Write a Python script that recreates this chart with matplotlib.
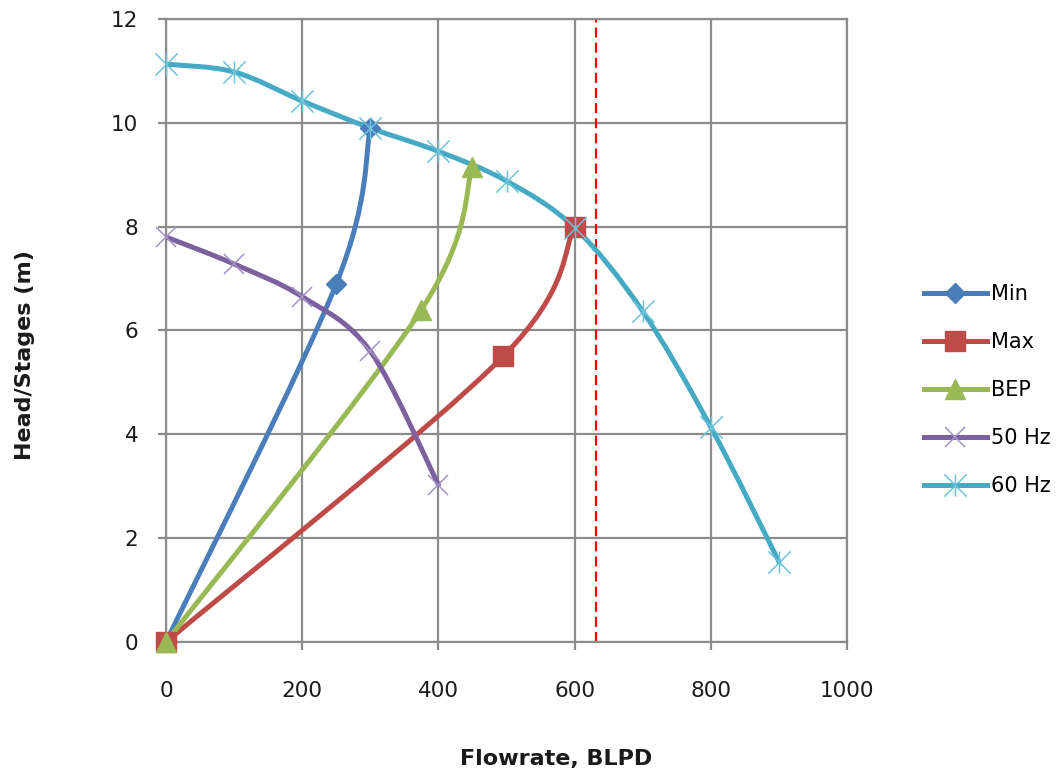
import matplotlib
matplotlib.use("Agg")
import matplotlib.pyplot as plt
from matplotlib.path import Path
from matplotlib.patches import PathPatch
from matplotlib.lines import Line2D
import numpy as np

plt.rcParams['font.family'] = ['DejaVu Sans']

# Data
min_x = [0, 250, 300]
min_y = [0, 6.9, 9.9]
max_x = [0, 495, 600]
max_y = [0, 5.5, 8.0]
bep_x = [0, 375, 450]
bep_y = [0, 6.4, 9.15]
hz50_x = [0, 100, 200, 300, 400]
hz50_y = [7.8, 7.28, 6.65, 5.6, 3.03]
hz60_x = [0, 100, 200, 300, 400, 500, 600, 700, 800, 900]
hz60_y = [11.13, 10.98, 10.42, 9.9, 9.45, 8.88, 7.98, 6.37, 4.14, 1.55]
limit_x = 632
x_ticks = [0, 200, 400, 600, 800, 1000]
y_ticks = [0, 2, 4, 6, 8, 10, 12]

series = [
    ("Min", min_x, min_y, '#4A7EBB', 'D'),
    ("Max", max_x, max_y, '#BE4B48', 's'),
    ("BEP", bep_x, bep_y, '#98B954', '^'),
    ("50 Hz", hz50_x, hz50_y, '#7D60A0', 'x'),
    ("60 Hz", hz60_x, hz60_y, '#46AAC5', 'star'),
]

star = Path([(-1, -1), (1, 1), (-1, 1), (1, -1), (0, -1), (0, 1)],
            [Path.MOVETO, Path.LINETO, Path.MOVETO, Path.LINETO, Path.MOVETO, Path.LINETO])


def smooth_path(xs, ys):
    # Excel-style smoothed line as cubic Bezier segments through the data points
    pts = np.column_stack([xs, ys]).astype(float)
    n = len(pts)
    verts = [tuple(pts[0])]
    codes = [Path.MOVETO]
    for i in range(n - 1):
        p0 = pts[i - 1] if i > 0 else pts[i]
        p1 = pts[i]
        p2 = pts[i + 1]
        p3 = pts[i + 2] if i + 2 < n else pts[i + 1]
        c1 = p1 + (p2 - p0) / 6.0
        c2 = p2 - (p3 - p1) / 6.0
        verts += [tuple(c1), tuple(c2), tuple(p2)]
        codes += [Path.CURVE4] * 3
    return Path(verts, codes)


fig = plt.figure(figsize=(10.59, 7.74), dpi=100)
ax = fig.add_axes([0.1568, 0.1705, 0.6430, 0.8050])

grid_c = '#8C8C8C'
ax.set_xlim(0, 1000)
ax.set_ylim(0, 12)
ax.set_xticks(x_ticks)
ax.set_yticks(y_ticks)
ax.grid(True, color=grid_c, linewidth=1.6)
ax.set_axisbelow(True)
for s in ax.spines.values():
    s.set_color(grid_c)
    s.set_linewidth(1.6)
ax.tick_params(axis='both', direction='out', length=6, width=1.6, color=grid_c,
               labelsize=15.5, labelcolor='#1a1a1a')
ax.tick_params(axis='x', pad=22)
ax.tick_params(axis='y', pad=14)

lw = 3.6
handles = []
for name, xs, ys, col, mk in series:
    patch = PathPatch(smooth_path(xs, ys), facecolor='none', edgecolor=col,
                      linewidth=lw, zorder=3, capstyle='round', joinstyle='round')
    ax.add_patch(patch)
    if mk == 'star':
        kw = dict(marker=star, markersize=16, markerfacecolor='none',
                  markeredgecolor='#6CC3DA', markeredgewidth=1.1)
    elif mk == 'x':
        kw = dict(marker='x', markersize=15, markerfacecolor='none',
                  markeredgecolor='#A593C6', markeredgewidth=1.1)
    else:
        ms = {'D': 10, 's': 14, '^': 14}[mk]
        kw = dict(marker=mk, markersize=ms, markerfacecolor=col,
                  markeredgecolor=col, markeredgewidth=1.0)
    ax.plot(xs, ys, linestyle='none', zorder=4, clip_on=False, **kw)
    handles.append((Line2D([], [], color=col, linewidth=lw, **kw), name))

ax.axvline(limit_x, color='#FF0000', linestyle=(0, (4.5, 2.3)), linewidth=1.6, zorder=2)

ax.set_xlabel('Flowrate, BLPD', fontsize=16, fontweight='bold', color='#1a1a1a')
ax.set_ylabel('Head/Stages (m)', fontsize=16, fontweight='bold', color='#1a1a1a')
ax.xaxis.set_label_coords(0.5727, -0.172)
ax.yaxis.set_label_coords(-0.193, 0.4607)

fig.legend([h for h, _ in handles], [n for _, n in handles],
           loc='center left', bbox_to_anchor=(0.855, 0.496), frameon=False,
           fontsize=15, handlelength=3.0, handletextpad=0.2, labelspacing=1.35)

fig.savefig('out.png', dpi=100)
